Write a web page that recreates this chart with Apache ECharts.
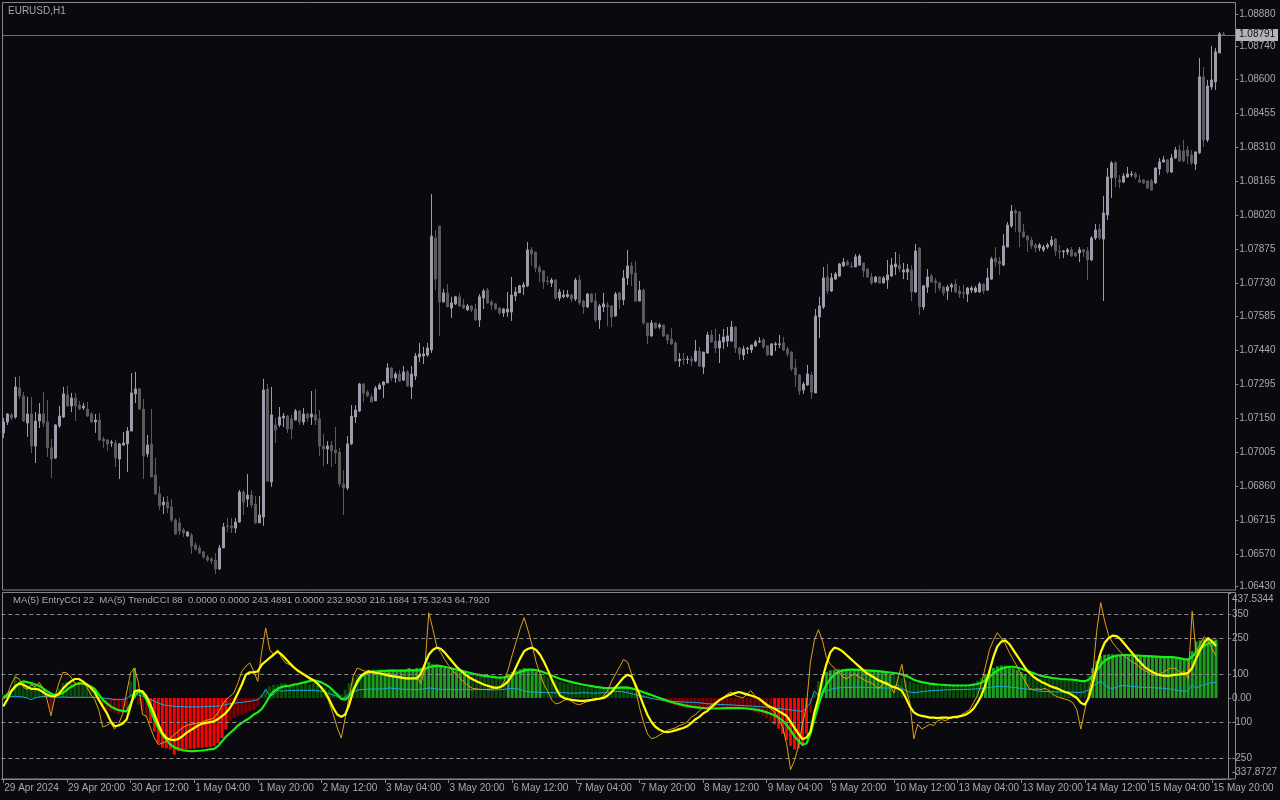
<!DOCTYPE html>
<html><head><meta charset="utf-8">
<script src="https://cdn.jsdelivr.net/npm/echarts@6/dist/echarts.min.js"></script>
<style>html,body{margin:0;padding:0;background:#0a0a0e;}#c{width:1280px;height:800px;}</style>
</head><body><div id="c"></div>
<script>
const symbolLabel = 'EURUSD,H1';
const indLegend = 'MA(5) EntryCCI 22  MA(5) TrendCCI 88  0.0000 0.0000 243.4891 0.0000 232.9030 216.1684 175.3243 64.7920';
const open = [1.07088,1.07135,1.07165,1.07156,1.07280,1.07246,1.07130,1.07169,1.07032,1.07139,
1.07169,1.07135,1.07024,1.06981,1.07118,1.07156,1.07250,1.07203,1.07237,1.07207,
1.07195,1.07190,1.07169,1.07135,1.07143,1.07062,1.07058,1.07045,1.07045,1.06976,
1.07036,1.07041,1.07096,1.07255,1.07276,1.07190,1.06998,1.07041,1.06908,1.06827,
1.06780,1.06792,1.06771,1.06715,1.06703,1.06673,1.06647,1.06651,1.06609,1.06596,
1.06579,1.06557,1.06549,1.06544,1.06506,1.06596,1.06690,1.06690,1.06681,1.06707,
1.06835,1.06805,1.06822,1.06784,1.06703,1.06728,1.07276,1.06878,1.07122,1.07122,
1.07152,1.07160,1.07148,1.07143,1.07182,1.07135,1.07169,1.07156,1.07165,1.07148,
1.07032,1.07019,1.07036,1.07015,1.07006,1.06870,1.06852,1.07041,1.07156,1.07182,
1.07297,1.07263,1.07242,1.07225,1.07276,1.07293,1.07302,1.07366,1.07323,1.07340,
1.07314,1.07349,1.07285,1.07331,1.07413,1.07417,1.07421,1.07443,1.07922,1.07973,
1.07648,1.07687,1.07622,1.07640,1.07670,1.07635,1.07614,1.07631,1.07618,1.07571,
1.07665,1.07699,1.07648,1.07640,1.07622,1.07601,1.07605,1.07605,1.07674,1.07687,
1.07712,1.07717,1.07871,1.07862,1.07794,1.07781,1.07738,1.07729,1.07742,1.07665,
1.07670,1.07672,1.07678,1.07661,1.07742,1.07652,1.07627,1.07682,1.07652,1.07571,
1.07627,1.07635,1.07631,1.07588,1.07687,1.07657,1.07751,1.07802,1.07772,1.07652,
1.07699,1.07558,1.07503,1.07558,1.07541,1.07550,1.07507,1.07490,1.07473,1.07396,
1.07404,1.07402,1.07404,1.07396,1.07438,1.07370,1.07430,1.07507,1.07481,1.07451,
1.07477,1.07481,1.07481,1.07541,1.07451,1.07421,1.07447,1.07443,1.07460,1.07477,
1.07486,1.07460,1.07421,1.07466,1.07466,1.07473,1.07447,1.07434,1.07366,1.07336,
1.07272,1.07293,1.07336,1.07259,1.07584,1.07627,1.07755,1.07695,1.07746,1.07759,
1.07802,1.07819,1.07802,1.07798,1.07806,1.07815,1.07789,1.07755,1.07734,1.07755,
1.07729,1.07742,1.07759,1.07798,1.07806,1.07776,1.07776,1.07785,1.07691,1.07879,
1.07627,1.07712,1.07759,1.07738,1.07729,1.07712,1.07695,1.07712,1.07725,1.07695,
1.07688,1.07682,1.07699,1.07691,1.07691,1.07725,1.07699,1.07746,1.07836,1.07823,
1.07806,1.07883,1.07973,1.08037,1.08033,1.07948,1.07930,1.07913,1.07892,1.07879,
1.07871,1.07883,1.07892,1.07917,1.07866,1.07862,1.07862,1.07871,1.07858,1.07858,
1.07871,1.07866,1.07828,1.07922,1.07960,1.07917,1.08020,1.08179,1.08243,1.08170,
1.08161,1.08183,1.08192,1.08196,1.08170,1.08170,1.08166,1.08166,1.08157,1.08217,
1.08247,1.08256,1.08204,1.08264,1.08298,1.08294,1.08298,1.08277,1.08238,1.08286,
1.08611,1.08341,1.08568,1.08589,1.08713,1.08795];
const close = [1.07135,1.07169,1.07152,1.07285,1.07246,1.07139,1.07169,1.07032,1.07139,1.07169,
1.07130,1.07024,1.06976,1.07122,1.07160,1.07255,1.07203,1.07237,1.07203,1.07190,
1.07203,1.07160,1.07135,1.07143,1.07058,1.07053,1.07041,1.07049,1.06981,1.07041,
1.07045,1.07096,1.07259,1.07276,1.07190,1.06989,1.07036,1.06899,1.06827,1.06775,
1.06792,1.06767,1.06715,1.06656,1.06668,1.06660,1.06664,1.06604,1.06591,1.06574,
1.06557,1.06544,1.06540,1.06506,1.06596,1.06686,1.06688,1.06681,1.06707,1.06835,
1.06792,1.06822,1.06780,1.06703,1.06737,1.07272,1.06882,1.07165,1.07100,1.07156,
1.07160,1.07105,1.07105,1.07182,1.07135,1.07169,1.07152,1.07169,1.07143,1.07032,
1.07019,1.07032,1.07011,1.07002,1.06870,1.06852,1.07041,1.07160,1.07186,1.07297,
1.07259,1.07246,1.07220,1.07280,1.07293,1.07306,1.07366,1.07323,1.07340,1.07310,
1.07349,1.07289,1.07340,1.07417,1.07426,1.07426,1.07451,1.07930,1.07746,1.07648,
1.07687,1.07627,1.07644,1.07670,1.07631,1.07622,1.07631,1.07614,1.07571,1.07670,
1.07695,1.07644,1.07635,1.07618,1.07601,1.07618,1.07618,1.07678,1.07691,1.07717,
1.07721,1.07871,1.07853,1.07794,1.07776,1.07734,1.07736,1.07742,1.07665,1.07691,
1.07678,1.07680,1.07661,1.07742,1.07644,1.07627,1.07682,1.07648,1.07571,1.07631,
1.07640,1.07627,1.07584,1.07682,1.07657,1.07751,1.07802,1.07768,1.07652,1.07699,
1.07558,1.07503,1.07558,1.07537,1.07550,1.07503,1.07486,1.07468,1.07396,1.07404,
1.07402,1.07404,1.07396,1.07438,1.07374,1.07434,1.07507,1.07477,1.07451,1.07481,
1.07498,1.07503,1.07541,1.07451,1.07426,1.07447,1.07451,1.07464,1.07477,1.07481,
1.07456,1.07421,1.07468,1.07469,1.07469,1.07443,1.07426,1.07361,1.07336,1.07267,
1.07297,1.07340,1.07263,1.07588,1.07631,1.07751,1.07695,1.07751,1.07768,1.07811,
1.07819,1.07806,1.07798,1.07841,1.07845,1.07781,1.07755,1.07729,1.07755,1.07729,
1.07751,1.07764,1.07806,1.07811,1.07789,1.07785,1.07789,1.07691,1.07866,1.07627,
1.07717,1.07755,1.07734,1.07729,1.07708,1.07687,1.07712,1.07721,1.07691,1.07682,
1.07684,1.07708,1.07708,1.07708,1.07725,1.07695,1.07751,1.07832,1.07819,1.07811,
1.07888,1.07977,1.08037,1.08029,1.07948,1.07926,1.07913,1.07888,1.07879,1.07892,
1.07883,1.07892,1.07913,1.07866,1.07862,1.07866,1.07871,1.07845,1.07845,1.07871,
1.07862,1.07828,1.07922,1.07956,1.07922,1.08029,1.08183,1.08243,1.08179,1.08161,
1.08187,1.08196,1.08195,1.08183,1.08161,1.08157,1.08136,1.08127,1.08221,1.08247,
1.08256,1.08204,1.08264,1.08298,1.08251,1.08251,1.08273,1.08243,1.08290,1.08611,
1.08341,1.08572,1.08598,1.08718,1.08795,1.08791];
const high = [1.07152,1.07173,1.07173,1.07327,1.07331,1.07263,1.07242,1.07242,1.07177,1.07216,
1.07263,1.07229,1.07062,1.07126,1.07203,1.07285,1.07289,1.07259,1.07259,1.07225,
1.07216,1.07220,1.07177,1.07169,1.07173,1.07071,1.07062,1.07058,1.07058,1.07045,
1.07092,1.07113,1.07344,1.07349,1.07280,1.07233,1.07079,1.07190,1.06981,1.06861,
1.06814,1.06818,1.06805,1.06724,1.06724,1.06681,1.06668,1.06660,1.06621,1.06609,
1.06583,1.06566,1.06557,1.06574,1.06609,1.06703,1.06724,1.06724,1.06724,1.06844,
1.06844,1.06912,1.06844,1.06818,1.06818,1.07319,1.07297,1.07285,1.07152,1.07199,
1.07173,1.07165,1.07165,1.07190,1.07186,1.07195,1.07173,1.07267,1.07276,1.07186,
1.07083,1.07053,1.07053,1.07113,1.07024,1.06929,1.07075,1.07207,1.07207,1.07302,
1.07302,1.07272,1.07255,1.07289,1.07302,1.07310,1.07387,1.07370,1.07349,1.07357,
1.07374,1.07357,1.07374,1.07430,1.07473,1.07456,1.07473,1.08110,1.07956,1.07973,
1.07704,1.07725,1.07670,1.07674,1.07687,1.07661,1.07640,1.07635,1.07640,1.07682,
1.07704,1.07708,1.07657,1.07644,1.07627,1.07622,1.07691,1.07755,1.07712,1.07721,
1.07734,1.07905,1.07883,1.07862,1.07806,1.07785,1.07759,1.07751,1.07746,1.07704,
1.07699,1.07699,1.07682,1.07751,1.07764,1.07657,1.07687,1.07687,1.07687,1.07640,
1.07687,1.07648,1.07635,1.07691,1.07691,1.07785,1.07871,1.07819,1.07823,1.07738,
1.07704,1.07558,1.07571,1.07560,1.07558,1.07550,1.07511,1.07537,1.07481,1.07430,
1.07430,1.07417,1.07417,1.07486,1.07456,1.07434,1.07520,1.07528,1.07533,1.07511,
1.07533,1.07541,1.07567,1.07543,1.07456,1.07460,1.07456,1.07464,1.07486,1.07498,
1.07494,1.07464,1.07473,1.07477,1.07507,1.07498,1.07456,1.07438,1.07404,1.07340,
1.07306,1.07379,1.07349,1.07618,1.07670,1.07798,1.07811,1.07772,1.07776,1.07815,
1.07836,1.07828,1.07819,1.07853,1.07853,1.07815,1.07794,1.07772,1.07759,1.07759,
1.07759,1.07828,1.07836,1.07862,1.07853,1.07815,1.07811,1.07806,1.07896,1.07883,
1.07721,1.07789,1.07768,1.07751,1.07734,1.07717,1.07721,1.07729,1.07746,1.07717,
1.07721,1.07712,1.07717,1.07717,1.07734,1.07729,1.07794,1.07841,1.07883,1.07841,
1.07939,1.07990,1.08063,1.08046,1.08037,1.07982,1.07935,1.07926,1.07900,1.07900,
1.07892,1.07900,1.07930,1.07922,1.07892,1.07871,1.07879,1.07883,1.07862,1.07883,
1.07875,1.07883,1.07930,1.07982,1.07982,1.08102,1.08221,1.08251,1.08251,1.08191,
1.08200,1.08226,1.08208,1.08204,1.08191,1.08174,1.08166,1.08174,1.08224,1.08264,
1.08273,1.08260,1.08281,1.08311,1.08320,1.08341,1.08315,1.08298,1.08292,1.08692,
1.08653,1.08598,1.08743,1.08735,1.08803,1.08803];
const low = [1.07066,1.07122,1.07143,1.07148,1.07233,1.07135,1.07071,1.07002,1.06959,1.07109,
1.07113,1.06985,1.06895,1.06976,1.07109,1.07152,1.07199,1.07177,1.07139,1.07186,
1.07186,1.07156,1.07130,1.07088,1.07053,1.07024,1.07011,1.07028,1.06942,1.06891,
1.07032,1.06921,1.07096,1.07216,1.07186,1.06891,1.06985,1.06899,1.06822,1.06758,
1.06741,1.06745,1.06707,1.06651,1.06651,1.06643,1.06643,1.06570,1.06583,1.06570,
1.06549,1.06536,1.06527,1.06484,1.06502,1.06596,1.06664,1.06660,1.06660,1.06703,
1.06737,1.06771,1.06767,1.06698,1.06703,1.06690,1.06878,1.06857,1.07045,1.07113,
1.07113,1.07088,1.07062,1.07143,1.07122,1.07122,1.07135,1.07122,1.07122,1.06989,
1.06946,1.06955,1.06942,1.06955,1.06857,1.06737,1.06844,1.07036,1.07130,1.07177,
1.07220,1.07242,1.07220,1.07225,1.07272,1.07237,1.07302,1.07310,1.07302,1.07306,
1.07310,1.07285,1.07233,1.07314,1.07391,1.07383,1.07413,1.07430,1.07699,1.07503,
1.07648,1.07627,1.07580,1.07635,1.07627,1.07618,1.07610,1.07605,1.07567,1.07541,
1.07618,1.07640,1.07614,1.07614,1.07592,1.07584,1.07584,1.07567,1.07652,1.07687,
1.07678,1.07712,1.07802,1.07776,1.07734,1.07704,1.07721,1.07712,1.07657,1.07652,
1.07665,1.07665,1.07648,1.07652,1.07635,1.07597,1.07622,1.07644,1.07562,1.07533,
1.07605,1.07545,1.07541,1.07584,1.07618,1.07635,1.07721,1.07717,1.07648,1.07652,
1.07550,1.07468,1.07498,1.07533,1.07533,1.07498,1.07468,1.07464,1.07391,1.07370,
1.07379,1.07383,1.07374,1.07391,1.07370,1.07340,1.07426,1.07473,1.07430,1.07387,
1.07447,1.07456,1.07477,1.07430,1.07400,1.07400,1.07426,1.07430,1.07456,1.07473,
1.07447,1.07417,1.07417,1.07438,1.07451,1.07438,1.07413,1.07353,1.07285,1.07250,
1.07255,1.07289,1.07233,1.07259,1.07494,1.07618,1.07682,1.07691,1.07742,1.07755,
1.07798,1.07802,1.07794,1.07798,1.07802,1.07755,1.07751,1.07721,1.07729,1.07729,
1.07729,1.07704,1.07755,1.07764,1.07776,1.07746,1.07742,1.07652,1.07687,1.07592,
1.07614,1.07687,1.07729,1.07687,1.07695,1.07674,1.07657,1.07691,1.07687,1.07665,
1.07661,1.07648,1.07687,1.07687,1.07687,1.07682,1.07695,1.07742,1.07798,1.07764,
1.07802,1.07883,1.07965,1.07948,1.07883,1.07922,1.07862,1.07875,1.07862,1.07866,
1.07862,1.07875,1.07883,1.07845,1.07832,1.07836,1.07849,1.07841,1.07841,1.07819,
1.07841,1.07742,1.07823,1.07913,1.07913,1.07652,1.07999,1.08093,1.08140,1.08136,
1.08157,1.08179,1.08183,1.08174,1.08157,1.08153,1.08131,1.08123,1.08154,1.08191,
1.08243,1.08196,1.08200,1.08260,1.08247,1.08247,1.08238,1.08234,1.08213,1.08281,
1.08311,1.08332,1.08555,1.08555,1.08713,1.08790];
const priceTicks = [1.08880,1.08740,1.08600,1.08455,1.08310,1.08165,1.08020,1.07875,1.07730,1.07585,1.07440,1.07295,1.07150,1.07005,1.06860,1.06715,1.06570,1.06430];
const lastPrice = 1.08791;
const timeLabels = ['29 Apr 2024','29 Apr 20:00','30 Apr 12:00','1 May 04:00','1 May 20:00','2 May 12:00','3 May 04:00','3 May 20:00','6 May 12:00','7 May 04:00','7 May 20:00','8 May 12:00','9 May 04:00','9 May 20:00','10 May 12:00','13 May 04:00','13 May 20:00','14 May 12:00','15 May 04:00','15 May 20:00'];
const tradingDays = ['29 Apr','30 Apr','1 May','2 May','3 May','6 May','7 May','8 May','9 May','10 May','13 May','14 May','15 May','16 May'];
const indTicks = [437.5344,350,250,100,0,-100,-250,-337.8727];
const indTickLabels = ['437.5344','350','250','100','0.00','-100','-250','-337.8727'];
const levels = [350,250,100,-100,-250];

// TrendCCI 88 histogram
const hist = [14,21,28,97,62,69,55,62,48,55,
40,14,-49,10,40,62,69,62,55,62,
69,62,48,28,-14,-35,-48,-55,-62,-69,
-62,-42,69,125,-28,-55,-83,-104,-140,-188,
-208,-210,-215,-236,-222,-215,-215,-212,-212,-208,
-208,-205,-205,-201,-188,-167,-132,-97,-83,-76,
-69,-62,-55,-48,-35,14,35,48,55,55,
62,62,55,62,62,55,62,55,62,55,
48,42,35,28,21,14,35,62,83,97,
97,104,111,118,111,118,111,118,118,111,
118,118,125,118,125,125,130,150,140,138,
130,125,120,116,112,108,104,100,96,92,
90,88,86,84,84,86,92,100,108,114,
120,125,120,116,110,102,95,88,80,74,
68,64,60,56,52,48,46,44,42,40,
40,40,41,44,46,48,46,40,32,22,
20,14,8,3,-2,-8,-14,-20,-26,-32,
-36,-40,-42,-44,-45,-46,-46,-46,-45,-44,
-43,-42,-41,-40,-42,-44,-46,-50,-54,-60,
-66,-74,-84,-96,-110,-128,-150,-175,-200,-215,
-210,-200,-150,-60,20,70,95,108,115,118,
120,120,119,118,117,116,115,114,112,110,
108,106,104,100,96,90,82,74,70,64,
60,57,55,54,53,52,52,51,51,52,
52,53,55,58,64,72,84,100,115,125,
132,135,134,130,124,116,108,100,94,88,
84,82,80,78,77,76,76,75,74,72,
68,62,72,95,125,155,175,180,182,182,
181,180,180,179,178,177,176,175,175,174,
173,172,171,170,170,168,164,160,165,195,
235,240,245,242,244,243.4891];
// MA(5) TrendCCI (green)
const trendLine = [0,14,28,45,62,69,66,62,56,51,
40,28,18,11,14,21,34,46,55,62,
60,56,48,38,15,-7,-22,-35,-44,-51,
-54,-56,-25,7,28,21,-7,-49,-90,-125,
-153,-174,-194,-206,-212,-218,-220,-222,-222,-220,
-219,-217,-214,-212,-201,-181,-162,-146,-132,-115,
-104,-93,-83,-69,-60,-46,-21,7,28,38,
46,49,51,55,58,62,66,70,74,70,
65,56,46,30,14,-4,-7,7,35,62,
88,101,107,109,111,112,113,114,114,114,
114,114,115,115,115,116,120,128,132,135,
133,130,126,122,118,114,110,106,102,98,
95,92,90,88,86,85,86,90,96,102,
108,114,118,118,116,112,106,100,93,86,
80,75,70,66,62,58,55,52,49,46,
44,42,41,41,42,43,44,43,40,35,
30,24,18,12,6,0,-6,-12,-17,-22,
-26,-30,-33,-36,-38,-40,-42,-43,-44,-44,
-44,-43,-42,-42,-42,-42,-43,-44,-46,-48,
-51,-55,-60,-66,-73,-82,-95,-112,-135,-160,
-180,-195,-190,-150,-90,-30,20,55,80,98,
108,114,117,118,118,117,116,115,114,113,
112,110,108,106,104,102,98,92,85,76,
70,66,63,60,58,56,55,54,53,52,
52,52,52,53,55,58,64,74,88,102,
114,122,127,130,130,127,122,116,110,104,
98,93,89,86,83,81,79,78,77,76,
74,70,70,76,92,115,138,155,165,172,
176,178,179,179,178,177,176,175,174,173,
172,171,170,170,170,168,165,162,160,172,
190,205,218,226,231,232.903];
// MA(5) EntryCCI (yellow)
const entryLine = [-35,-7,28,49,60,56,46,38,38,35,
24,14,7,7,18,38,56,69,79,79,
69,56,42,24,-7,-35,-62,-97,-118,-115,
-107,-90,-35,28,32,28,7,-28,-69,-111,
-146,-167,-174,-176,-171,-160,-146,-135,-125,-115,
-107,-104,-101,-97,-88,-76,-62,-42,-14,21,
56,97,107,107,111,139,153,167,181,194,
181,163,146,129,115,104,93,82,74,60,
42,21,-7,-42,-69,-79,-69,-28,28,69,
93,104,110,107,104,101,97,93,90,88,
85,82,82,81,81,100,140,180,200,210,
205,190,170,150,130,115,100,88,78,70,
62,55,50,45,42,45,55,70,95,130,
165,195,205,210,200,180,150,115,75,40,
10,0,-5,-8,-10,-12,-12,-10,-8,-5,
-3,0,10,25,45,65,85,97,90,55,
15,-30,-70,-100,-120,-132,-140,-143,-140,-135,
-130,-125,-118,-105,-90,-80,-65,-55,-40,-25,
-10,0,8,14,20,25,20,15,10,5,
-2,-15,-28,-38,-45,-55,-65,-75,-100,-125,
-150,-172,-165,-140,-60,0,80,140,190,210,
205,195,180,165,150,135,120,105,95,85,
75,68,60,52,45,40,30,0,-35,-60,
-70,-75,-78,-82,-82,-84,-82,-82,-83,-80,
-78,-75,-70,-60,-45,-20,10,55,110,170,
215,235,240,225,200,175,150,125,105,90,
78,68,60,52,45,40,32,25,20,10,
0,-20,-28,0,60,130,190,230,250,260,
258,245,225,205,185,165,148,130,118,108,
100,95,93,92,95,97,98,100,105,125,
165,200,230,250,235,216.1684];
// EntryCCI 22 raw (orange)
const entryRaw = [-7,14,56,88,79,46,35,56,46,65,
42,-7,-74,7,62,107,104,88,62,56,
62,46,14,-7,-49,-121,-115,-104,-129,-107,
-69,21,104,125,62,-69,-76,-125,-167,-194,
-188,-181,-167,-153,-139,-125,-115,-111,-107,-104,
-101,-93,-90,-83,-62,-32,-7,7,21,62,
111,132,146,111,69,194,292,201,181,201,
167,146,139,125,111,104,97,88,76,62,
49,24,-21,-69,-125,-167,-83,7,90,125,
118,111,115,104,107,101,97,104,93,88,
90,83,79,83,88,60,120,355,290,215,
190,160,135,115,95,80,65,50,40,38,
35,35,36,38,42,45,70,120,180,235,
290,335,280,220,150,100,55,25,-10,-25,
-20,-10,-5,-15,-25,-28,-20,-15,-10,-8,
-5,10,30,70,100,130,160,150,100,40,
-40,-100,-150,-170,-165,-155,-145,-135,-130,-125,
-115,-110,-100,-80,-70,-55,-40,-45,-30,-20,
-10,0,15,25,10,5,0,15,30,10,
-5,-20,-35,-45,-60,-90,-120,-190,-299,-260,
-200,-110,-30,150,240,285,240,170,140,125,
110,90,80,90,100,90,80,70,65,55,
40,50,70,55,20,80,140,40,-20,-170,
-110,-130,-120,-110,-115,-95,-90,-95,-85,-80,
-85,-70,-60,-50,-20,10,60,130,200,240,
272,250,225,190,160,130,100,70,40,35,
38,35,40,30,15,5,0,-5,-10,-20,
-50,-130,-50,20,100,280,397,320,260,230,
210,190,175,160,150,140,125,115,105,95,
95,100,110,120,126,120,105,110,80,361,
190,225,255,240,205,175.3243];
// fourth line (cyan)
const cyanLine = [0,3,5,7,5,4,0,-7,0,4,
7,5,4,4,3,4,3,2,3,2,
3,2,3,2,1,0,-2,-4,-7,-7,
-7,-2,10,17,12,7,0,-7,-14,-21,
-28,-31,-33,-35,-36,-36,-37,-37,-37,-37,
-37,-36,-36,-35,-34,-32,-28,-24,-22,-20,
-18,-16,-14,-11,-7,7,37,7,14,32,
28,30,32,31,32,32,31,32,32,30,
28,24,18,12,7,-4,4,18,24,32,
35,36,37,37,37,37,39,42,40,38,
37,36,36,35,35,36,38,42,40,38,
36,35,36,35,34,35,36,35,34,35,
36,35,34,33,34,35,36,38,40,38,
36,28,26,25,24,24,23,22,22,21,
22,22,21,20,20,21,22,21,20,20,
21,22,24,26,28,27,25,22,18,14,
10,6,2,-2,-5,-8,-10,-12,-14,-15,
-16,-17,-18,-18,-19,-20,-22,-24,-25,-26,
-27,-28,-28,-29,-30,-31,-32,-33,-34,-35,
-36,-37,-38,-40,-42,-44,-46,-48,-50,-52,
-54,-56,-40,-20,30,10,20,28,35,40,
42,43,44,44,45,45,44,44,43,43,
42,42,41,42,48,55,40,30,25,22,
24,26,28,30,31,32,33,34,34,35,
35,35,36,36,37,38,40,42,44,46,
48,48,47,46,44,42,40,38,36,34,
30,28,27,26,26,25,25,24,24,24,
23,22,26,34,48,60,70,55,42,40,
45,50,52,50,48,46,45,44,44,43,
42,41,40,38,36,32,30,28,30,55,
40,50,55,60,64,64.792];

const BG='#0a0a0e', BORDER='#86868e', TXT='#a6a8b0', BULL='#9c9cab', BEAR='#5a5a5f';
const FONT='"Liberation Sans", Arial, sans-serif';
const SLOTS = 308, STEP = 16, STRONG = 100;
const cats = [];
tradingDays.forEach((d,k)=>{ for(let h=(k===0?4:0); h<24; h++) cats.push(d+' '+String(h).padStart(2,'0')+':00'); });
cats.length = SLOTS;
const candles = open.map((o,i)=>[o, close[i], low[i], high[i]]);
const histColor = v => v >= 0 ? (v >= STRONG ? '#1e9e1e' : '#0b4d0b') : (v <= -STRONG ? '#ff0000' : '#7c0000');

const chart = echarts.init(document.getElementById('c'), null, {renderer:'canvas'});
const GL = 1.3, GW = 1232;
chart.setOption({
  backgroundColor: BG,
  animation: false,
  grid: [
    {left: GL, top: 3, width: GW, height: 587},
    {left: GL, top: 593, width: GW, height: 186}
  ],
  xAxis: [
    {gridIndex:0, type:'category', data:cats, boundaryGap:true, axisLine:{show:false}, axisTick:{show:false}, axisLabel:{show:false}, splitLine:{show:false}},
    {gridIndex:1, type:'category', data:cats, boundaryGap:true, position:'bottom',
     axisLine:{show:true, onZero:false, lineStyle:{color:BORDER, width:1}},
     axisTick:{show:true, alignWithLabel:true, length:4, interval:(i)=> i%STEP===0 && i/STEP < timeLabels.length, lineStyle:{color:BORDER}},
     axisLabel:{show:true, interval:(i)=> i%STEP===0 && i/STEP < timeLabels.length, formatter:(v,i)=> timeLabels[Math.round(i/STEP)] || '', color:TXT, fontSize:10, fontFamily:FONT, align:'left', margin:4, padding:[0,0,0,1]},
     splitLine:{show:false}}
  ],
  yAxis: [
    {gridIndex:0, type:'value', position:'right', offset:2, min:1.06416, max:1.08927,
     axisLine:{show:true, lineStyle:{color:BORDER}},
     axisTick:{show:true, length:3, customValues:priceTicks, lineStyle:{color:BORDER}},
     axisLabel:{show:true, customValues:priceTicks, formatter:(v)=>v.toFixed(5), color:TXT, fontSize:10, fontFamily:FONT, margin:4},
     splitLine:{show:false}},
    {gridIndex:1, type:'value', position:'right', offset:2, min:-337.8727, max:437.5344,
     axisLine:{show:true, lineStyle:{color:BORDER}},
     axisTick:{show:true, length:3, customValues:indTicks, lineStyle:{color:BORDER}},
     axisLabel:{show:true, customValues:indTicks, color:TXT, fontSize:10, fontFamily:FONT, margin:4,
       formatter:(v)=>{ const k = indTicks.findIndex(t=>Math.abs(t-v)<1e-6); const s = k>=0? indTickLabels[k] : String(v);
         if (k===0) return '{top|'+s+'}'; if (k===indTicks.length-1) return '{bot|'+s+'}'; return s; },
       rich:{top:{color:TXT, fontSize:10, fontFamily:FONT, padding:[12,0,0,0]}, bot:{color:TXT, fontSize:10, fontFamily:FONT, padding:[0,0,13,0]}}},
     splitLine:{show:false}}
  ],
  series: [
    {type:'candlestick', xAxisIndex:0, yAxisIndex:0, data:candles, barWidth:3,
     itemStyle:{color:BULL, color0:BEAR, borderColor:BULL, borderColor0:BEAR, borderWidth:1}},
    {type:'bar', xAxisIndex:1, yAxisIndex:1, barWidth:3, z:2,
     data: hist.map(v=>({value:v, itemStyle:{color:histColor(v)}})),
     markLine:{silent:true, symbol:'none', animation:false, label:{show:false},
       lineStyle:{color:'#8a8a8e', width:1, type:[4,3]}, data: levels.map(l=>({yAxis:l}))}},
    {type:'line', xAxisIndex:1, yAxisIndex:1, data:cyanLine, symbol:'none', z:3, lineStyle:{color:'#1aa8e0', width:1}},
    {type:'line', xAxisIndex:1, yAxisIndex:1, data:trendLine, symbol:'none', z:4, lineStyle:{color:'#14f014', width:2.2}},
    {type:'line', xAxisIndex:1, yAxisIndex:1, data:entryRaw, symbol:'none', z:5, lineStyle:{color:'#e0a018', width:1}},
    {type:'line', xAxisIndex:1, yAxisIndex:1, data:entryLine, symbol:'none', z:6, lineStyle:{color:'#ffff00', width:2.2}}
  ]
});
const py = Math.round(chart.convertToPixel({yAxisIndex:0}, lastPrice)) + 0.5;
chart.setOption({
  graphic: [
    {type:'rect', silent:true, z:-1, shape:{x:2.5, y:2.5, width:1233, height:587.5}, style:{fill:'none', stroke:BORDER, lineWidth:1}},
    {type:'rect', silent:true, z:-1, shape:{x:2.5, y:592.5, width:1233, height:186.5}, style:{fill:'none', stroke:BORDER, lineWidth:1}},
    {type:'line', silent:true, z:0, shape:{x1:3, y1:py, x2:1235, y2:py}, style:{stroke:'#6e6e78', lineWidth:1}},
    {type:'rect', silent:true, z:10, shape:{x:1236, y:py-6.5, width:42, height:12}, style:{fill:'#b4b4b8'}},
    {type:'text', silent:true, z:11, x:1239, y:py-6, style:{text:lastPrice.toFixed(5), fill:'#101010', font:'10px '+FONT}},
    {type:'text', silent:true, left:8, top:6, style:{text:symbolLabel, fill:TXT, font:'10px '+FONT}},
    {type:'text', silent:true, left:13, top:595, style:{text:indLegend, fill:TXT, font:'9.6px '+FONT}}
  ]
});
</script></body></html>
